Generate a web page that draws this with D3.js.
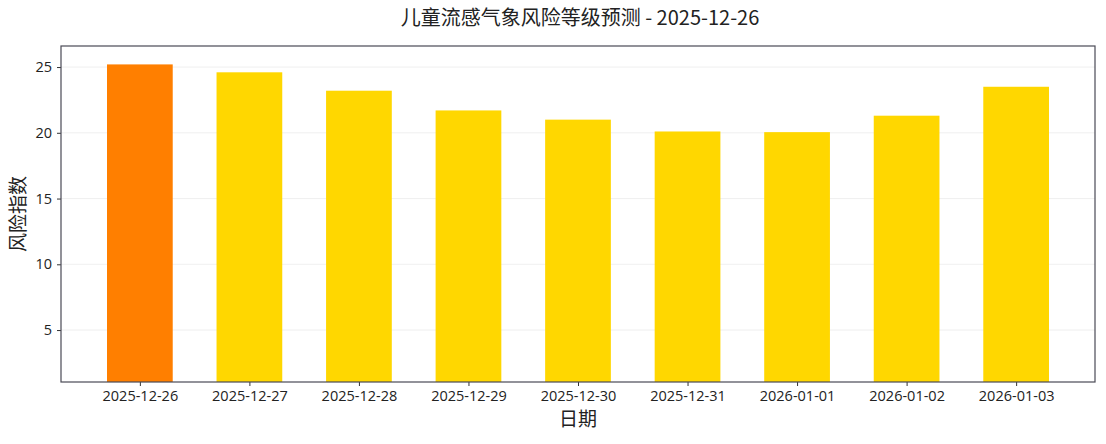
<!DOCTYPE html>
<html>
<head>
<meta charset="utf-8">
<script src="https://cdn.jsdelivr.net/npm/d3@7"></script>
<style>
  body { margin: 0; background: #fff; }
  text { font-family: "DejaVu Sans", "Noto Sans CJK SC", sans-serif; }
</style>
</head>
<body>
<div id="chart"></div>
<script>
// Chart data
var dates = ["2025-12-26", "2025-12-27", "2025-12-28", "2025-12-29", "2025-12-30",
             "2025-12-31", "2026-01-01", "2026-01-02", "2026-01-03"];
var riskValues = [25.2, 24.6, 23.2, 21.7, 21.0, 20.1, 20.05, 21.3, 23.5];
var barColors = ["#FF7F00", "#FFD700", "#FFD700", "#FFD700", "#FFD700",
                 "#FFD700", "#FFD700", "#FFD700", "#FFD700"];
var yTicks = [5, 10, 15, 20, 25];

var svgWidth = 1106;
var svgHeight = 444;

var margin = { top: 46, right: 11, bottom: 62, left: 61 };
var chartWidth = svgWidth - margin.left - margin.right;
var chartHeight = svgHeight - margin.top - margin.bottom;

var svg = d3.select("#chart")
  .append("svg")
  .attr("width", svgWidth)
  .attr("height", svgHeight);

var chartGroup = svg.append("g")
  .attr("transform", `translate(${margin.left}, ${margin.top})`);

// x is the bar index, padded like matplotlib's default margins
var xScale = d3.scaleLinear()
  .domain([-0.72, dates.length - 1 + 0.72])
  .range([0, chartWidth]);

var yScale = d3.scaleLinear()
  .domain([1.05, 26.6])
  .range([chartHeight, 0]);

var barWidth = xScale(0.6) - xScale(0);

// faint horizontal grid
chartGroup.append("g")
  .selectAll("line")
  .data(yTicks)
  .enter()
  .append("line")
  .attr("x1", 0)
  .attr("x2", chartWidth)
  .attr("y1", d => yScale(d))
  .attr("y2", d => yScale(d))
  .attr("stroke", "#b0b0b0")
  .attr("stroke-opacity", 0.25)
  .attr("stroke-width", 0.8);

chartGroup.selectAll("rect.bar")
  .data(riskValues)
  .enter()
  .append("rect")
  .attr("class", "bar")
  .attr("x", (d, i) => xScale(i) - barWidth / 2)
  .attr("y", d => yScale(d))
  .attr("width", barWidth)
  .attr("height", d => chartHeight - yScale(d))
  .attr("fill", (d, i) => barColors[i]);

var bottomAxis = chartGroup.append("g")
  .attr("transform", `translate(0, ${chartHeight})`)
  .call(d3.axisBottom(xScale)
    .tickValues(d3.range(dates.length))
    .tickFormat(i => dates[i])
    .tickSize(4)
    .tickPadding(5));

var leftAxis = chartGroup.append("g")
  .call(d3.axisLeft(yScale)
    .tickValues(yTicks)
    .tickSize(4)
    .tickPadding(5));

[bottomAxis, leftAxis].forEach(function(ax) {
  ax.select(".domain").remove();
  ax.selectAll(".tick line").attr("stroke", "#333");
  ax.selectAll(".tick text")
    .attr("font-size", "14.5px")
    .attr("fill", "#222")
    .style("font-family", "'Open Sans', 'DejaVu Sans', sans-serif");
});

// frame
chartGroup.append("rect")
  .attr("x", 0)
  .attr("y", 0)
  .attr("width", chartWidth)
  .attr("height", chartHeight)
  .attr("fill", "none")
  .attr("stroke", "#4a4a55")
  .attr("stroke-width", 1.2);

svg.append("text")
  .attr("x", margin.left + chartWidth / 2 + 2)
  .attr("y", 25)
  .attr("text-anchor", "middle")
  .attr("font-size", "20px")
  .attr("fill", "#222")
  .style("font-family", "'Noto Sans CJK SC', sans-serif")
  .text("儿童流感气象风险等级预测 - 2025-12-26");

svg.append("text")
  .attr("x", margin.left + chartWidth / 2)
  .attr("y", 426)
  .attr("text-anchor", "middle")
  .attr("font-size", "19px")
  .attr("fill", "#222")
  .style("font-family", "'Noto Sans CJK SC', sans-serif")
  .text("日期");

svg.append("text")
  .attr("transform", `translate(25, ${margin.top + chartHeight / 2}) rotate(-90)`)
  .attr("text-anchor", "middle")
  .attr("font-size", "19px")
  .attr("fill", "#222")
  .style("font-family", "'Noto Sans CJK SC', sans-serif")
  .text("风险指数");
</script>
</body>
</html>
